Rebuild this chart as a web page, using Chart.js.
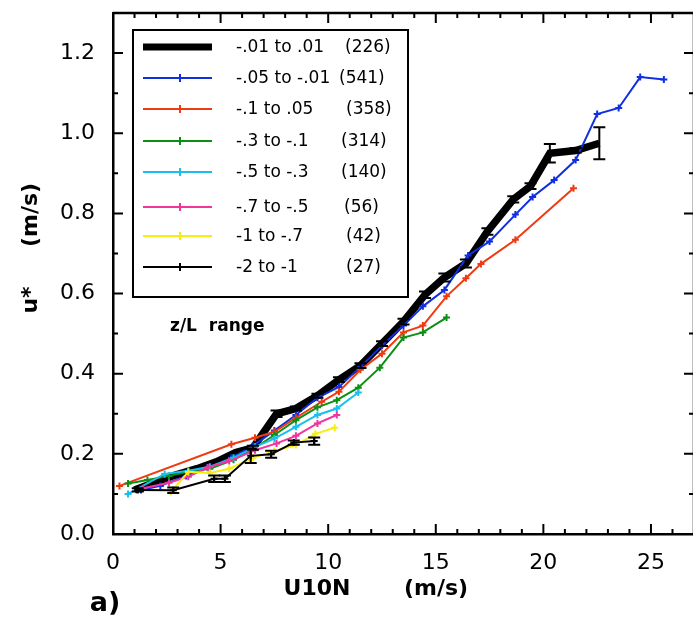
<!DOCTYPE html>
<html><head><meta charset="utf-8">
<script src="https://cdn.jsdelivr.net/npm/chart.js@4/dist/chart.umd.min.js"></script>
<style>html,body{margin:0;padding:0;background:#fff;overflow:hidden;width:693px;height:619px}canvas{position:absolute;left:0;top:0}</style>
</head><body>
<canvas id="c" width="700" height="619"></canvas>
<script>
// z/L range -.01 to .01 (226) — thick black with error bars
const U_A = [1.0, 2.0, 2.9, 3.9, 4.8, 5.7, 6.5, 7.6, 8.5, 9.5, 10.5, 11.5, 12.5, 13.5, 14.5, 15.4, 16.4, 17.4, 18.6, 19.4, 20.3, 21.5, 22.6];
const S_A = [0.11, 0.13, 0.147, 0.163, 0.18, 0.203, 0.215, 0.30, 0.313, 0.345, 0.385, 0.42, 0.475, 0.53, 0.597, 0.64, 0.675, 0.755, 0.835, 0.868, 0.95, 0.957, 0.975];
const E_A = [0, 0, 0, 0, 0, 0, 0.005, 0.008, 0.005, 0.005, 0.006, 0.006, 0.006, 0.007, 0.008, 0.01, 0.01, 0.008, 0.008, 0.007, 0.023, 0.006, 0.04];
// -.05 to -.01 (541)
const U_B = [1.3, 2.2, 3.4, 4.4, 5.5, 6.5, 7.5, 8.5, 9.5, 10.5, 11.5, 12.5, 13.5, 14.4, 15.4, 16.5, 17.5, 18.7, 19.5, 20.5, 21.5, 22.5, 23.5, 24.5, 25.6];
const S_B = [0.11, 0.12, 0.145, 0.165, 0.19, 0.22, 0.258, 0.297, 0.34, 0.367, 0.417, 0.47, 0.52, 0.568, 0.609, 0.695, 0.73, 0.797, 0.841, 0.883, 0.933, 1.048, 1.063, 1.14, 1.134];
// -.1 to .05 (358)
const U_C = [0.3, 5.5, 6.6, 7.5, 8.5, 9.7, 10.5, 11.5, 12.5, 13.5, 14.4, 15.5, 16.4, 17.1, 18.7, 21.4];
const S_C = [0.12, 0.224, 0.24, 0.255, 0.29, 0.33, 0.355, 0.41, 0.45, 0.503, 0.52, 0.593, 0.638, 0.674, 0.734, 0.863];
// -.3 to -.1 (314)
const U_D = [0.7, 1.6, 2.6, 3.5, 4.5, 5.6, 6.4, 7.5, 8.5, 9.5, 10.4, 11.4, 12.4, 13.5, 14.4, 15.5];
const S_D = [0.126, 0.135, 0.145, 0.155, 0.163, 0.185, 0.208, 0.247, 0.284, 0.316, 0.334, 0.365, 0.415, 0.49, 0.503, 0.54];
// -.5 to -.3 (140)
const U_E = [0.7, 2.4, 3.5, 4.5, 5.6, 6.6, 7.5, 8.5, 9.5, 10.4, 11.4];
const S_E = [0.1, 0.15, 0.158, 0.168, 0.19, 0.2175, 0.238, 0.2675, 0.297, 0.313, 0.353];
// -.7 to -.5 (56)
const U_F = [1.4, 2.6, 3.5, 4.4, 5.4, 6.6, 7.6, 8.5, 9.5, 10.4];
const S_F = [0.114, 0.128, 0.143, 0.166, 0.182, 0.209, 0.226, 0.245, 0.276, 0.297];
// -1 to -.7 (42)
const U_G = [2.7, 3.5, 4.5, 5.4, 6.5, 7.5, 8.5, 9.4, 10.3];
const S_G = [0.105, 0.155, 0.152, 0.163, 0.19, 0.207, 0.222, 0.25, 0.265];
// -2 to -1 (27) — thin black with error bars
const U_H = [1.15, 2.8, 4.7, 5.2, 6.4, 7.35, 8.4, 9.35];
const S_H = [0.11, 0.109, 0.138, 0.138, 0.195, 0.199, 0.228, 0.232];
const E_H = [0.004, 0.007, 0.008, 0.008, 0.018, 0.009, 0.005, 0.009];

const LABELS = ['-.01 to .01', '-.05 to -.01', '-.1 to .05', '-.3 to -.1', '-.5 to -.3', '-.7 to -.5', '-1 to -.7', '-2 to -1'];
const COUNTS = ['(226)', '(541)', '(358)', '(314)', '(140)', '(56)', '(42)', '(27)'];
const COLORS = ['#000000', '#1030e0', '#f03a12', '#0b8f14', '#18bff0', '#f0359c', '#f6ee10', '#000000'];
const X_TICKS = [0, 5, 10, 15, 20, 25];
const Y_TICKS = [0.0, 0.2, 0.4, 0.6, 0.8, 1.0, 1.2];

const xs = [U_A, U_B, U_C, U_D, U_E, U_F, U_G, U_H];
const ys = [S_A, S_B, S_C, S_D, S_E, S_F, S_G, S_H];
const errs = [E_A, null, null, null, null, null, null, E_H];
const orders = [9, 7, 6, 5, 4, 3, 2, 1];

const datasets = xs.map((X, i) => ({
  label: LABELS[i],
  data: X.map((x, k) => ({x: x, y: ys[i][k]})),
  borderColor: COLORS[i],
  backgroundColor: COLORS[i],
  borderWidth: i === 0 ? 7.5 : 2,
  pointStyle: 'cross',
  pointRadius: i === 0 ? 0 : 3.5,
  pointBorderWidth: 2,
  showLine: true,
  tension: 0,
  order: orders[i],
  errs: errs[i]
}));

const FONT = '"DejaVu Sans", sans-serif';

const deco = {
  id: 'deco',
  afterDatasetsDraw(chart) {
    const ctx = chart.ctx, xS = chart.scales.x, yS = chart.scales.y, a = chart.chartArea;
    ctx.save();
    // error bars
    chart.data.datasets.forEach(ds => {
      if (!ds.errs) return;
      ctx.strokeStyle = '#000'; ctx.lineWidth = 2;
      ds.data.forEach((p, k) => {
        const e = ds.errs[k]; if (!e) return;
        const px = xS.getPixelForValue(p.x);
        const y1 = yS.getPixelForValue(p.y - e), y2 = yS.getPixelForValue(p.y + e);
        ctx.beginPath();
        ctx.moveTo(px, y1); ctx.lineTo(px, y2);
        ctx.moveTo(px - 6, y1); ctx.lineTo(px + 6, y1);
        ctx.moveTo(px - 6, y2); ctx.lineTo(px + 6, y2);
        ctx.stroke();
      });
    });
    // frame top/right
    ctx.strokeStyle = '#000'; ctx.lineWidth = 2.5;
    ctx.beginPath();
    ctx.moveTo(a.left, a.top); ctx.lineTo(a.right, a.top); ctx.lineTo(a.right, a.bottom);
    ctx.stroke();
    // inward ticks
    ctx.lineWidth = 2;
    ctx.beginPath();
    for (let v = 0; v <= 27; v++) {
      const px = xS.getPixelForValue(v);
      const L = v % 5 === 0 ? 10 : 5;
      ctx.moveTo(px, a.bottom); ctx.lineTo(px, a.bottom - L);
      ctx.moveTo(px, a.top); ctx.lineTo(px, a.top + L);
    }
    for (let k = 0; k <= 13; k++) {
      const py = yS.getPixelForValue(k / 10);
      const L = k % 2 === 0 ? 10 : 5;
      ctx.moveTo(a.left, py); ctx.lineTo(a.left + L, py);
      ctx.moveTo(a.right, py); ctx.lineTo(a.right - L, py);
    }
    ctx.stroke();
    // legend box
    ctx.lineWidth = 2;
    ctx.strokeRect(133, 30, 275, 267);
    const rows = [47, 78, 109, 141, 172, 207, 236, 267];
    const cx = [345, 339, 346, 341, 341, 344, 346, 346];
    ctx.font = '17px ' + FONT;
    ctx.textBaseline = 'middle'; ctx.textAlign = 'left';
    rows.forEach((ry, i) => {
      ctx.strokeStyle = COLORS[i]; ctx.lineWidth = i === 0 ? 7 : 2;
      ctx.beginPath(); ctx.moveTo(143, ry); ctx.lineTo(212, ry); ctx.stroke();
      if (i > 0) {
        ctx.lineWidth = 2;
        ctx.beginPath(); ctx.moveTo(180, ry - 4); ctx.lineTo(180, ry + 4);
        ctx.moveTo(176, ry); ctx.lineTo(184, ry); ctx.stroke();
      }
      ctx.fillStyle = '#000';
      ctx.fillText(LABELS[i], 236, ry + 1);
      ctx.fillText(COUNTS[i], cx[i], ry + 1);
    });
    ctx.font = 'bold 17px ' + FONT;
    ctx.fillText('z/L  range', 170, 327);
    // axis titles
    ctx.font = 'bold 22px ' + FONT;
    ctx.textAlign = 'center';
    ctx.fillText('U10N', 317, 589);
    ctx.fillText('(m/s)', 436, 589);
    ctx.font = 'bold 27px ' + FONT;
    ctx.fillText('a)', 105, 604);
    ctx.font = 'bold 22px ' + FONT;
    ctx.translate(31, 0); ctx.rotate(-Math.PI / 2);
    ctx.fillText('u*', -300, 0);
    ctx.fillText('(m/s)', -215, 0);
    ctx.restore();
  }
};

new Chart(document.getElementById('c'), {
  type: 'scatter',
  data: { datasets },
  options: {
    responsive: false, animation: false, devicePixelRatio: 1,
    layout: { padding: { top: 13, right: 4, left: 0, bottom: 0 } },
    plugins: { legend: { display: false }, tooltip: { enabled: false } },
    scales: {
      x: {
        type: 'linear', min: 0, max: 27,
        afterBuildTicks: s => { s.ticks = X_TICKS.map(v => ({value: v})); },
        afterFit: s => { s.height = 85; s.paddingLeft = 0; s.paddingRight = 0; },
        grid: { display: false },
        border: { display: true, color: '#000', width: 2.5 },
        ticks: { color: '#000', font: { family: FONT, size: 22 }, padding: 8, maxRotation: 0 }
      },
      y: {
        type: 'linear', min: 0, max: 1.3,
        afterBuildTicks: s => { s.ticks = Y_TICKS.map(v => ({value: v})); },
        afterFit: s => { s.width = 113; s.paddingTop = 0; s.paddingBottom = 0; },
        grid: { display: false },
        border: { display: true, color: '#000', width: 2.5 },
        ticks: { color: '#000', font: { family: FONT, size: 22 }, padding: 10, callback: v => v.toFixed(1) }
      }
    }
  },
  plugins: [deco]
});
</script>
</body></html>
